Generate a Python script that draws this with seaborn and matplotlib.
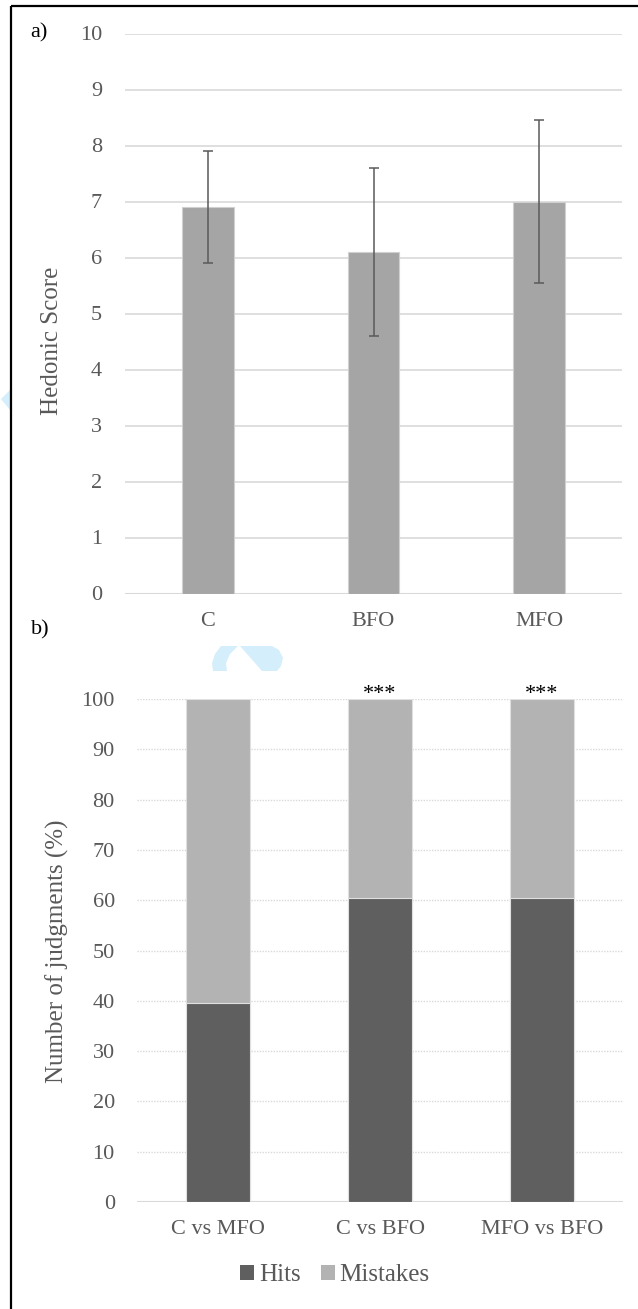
import numpy as np
import pandas as pd
import matplotlib
matplotlib.use("Agg")
import matplotlib.pyplot as plt
import seaborn as sns
from matplotlib.patches import Polygon, Patch

# Panel a: hedonic scores (mean and standard deviation)
samples = ["C", "BFO", "MFO"]
hedonic_mean = [6.9, 6.1, 7.0]
hedonic_sd = [1.0, 1.5, 1.45]

# Panel b: triangle test judgments (%)
comparisons = ["C vs MFO", "C vs BFO", "MFO vs BFO"]
hits = [39.6, 60.4, 60.4]
mistakes = [60.4, 39.6, 39.6]
significance = ["", "***", "***"]

W, H = 638, 1309
TICK_GREY = "#595959"
GRID_GREY = "#d9d9d9"

sns.set_theme(style="white")
plt.rcParams["font.family"] = ["Liberation Serif", "DejaVu Serif"]

fig = plt.figure(figsize=(W / 100, H / 100), dpi=100)


def box(left, top, right, bottom):
    return [left / W, 1 - bottom / H, (right - left) / W, (bottom - top) / H]


# background layer in pixel coordinates: frame and faint logo
bg = fig.add_axes([0, 0, 1, 1], zorder=-5)
bg.set_xlim(0, W)
bg.set_ylim(H, 0)
bg.axis("off")
logo = "#d4eefb"
bg.add_patch(Polygon([(1, 399), (10, 390), (10, 410)], closed=True, color=logo, lw=0))
bg.add_patch(Polygon([(213, 671), (212, 663), (215, 654), (221, 646), (238, 646),
                      (230, 654), (226, 663), (227, 671)], closed=True, color=logo, lw=0))
bg.add_patch(Polygon([(240, 646), (272, 646), (279, 650), (283, 658), (281, 666),
                      (277, 671), (262, 671)], closed=True, color=logo, lw=0))
bg.plot([11, W], [6, 6], color="black", lw=1.6, solid_capstyle="butt")
bg.plot([11, 11], [6, H], color="black", lw=1.6, solid_capstyle="butt")

# ---- panel a ----
ax_a = fig.add_axes(box(125, 33.5, 622, 593.5))
ax_a.set_facecolor("none")
df_a = pd.DataFrame({"sample": samples, "score": hedonic_mean})
sns.barplot(data=df_a, x="sample", y="score", color="#a5a5a5", saturation=1,
            width=0.31, edgecolor="#d0d0d0", linewidth=0.8, errorbar=None,
            ax=ax_a, zorder=2)
ax_a.errorbar(np.arange(len(samples)), hedonic_mean, yerr=hedonic_sd, fmt="none",
              ecolor="#5a5a5a", elinewidth=1.1, capsize=3.9, capthick=1.1, zorder=3)
ax_a.set_xlim(-0.5, len(samples) - 0.5)
ax_a.set_ylim(0, 10)
ax_a.set_yticks(np.arange(0, 11, 1))
ax_a.grid(axis="y", color=GRID_GREY, lw=1.2, zorder=0)
ax_a.set_axisbelow(True)
ax_a.axhline(0, color=GRID_GREY, lw=1.5, zorder=1)
for s in ax_a.spines.values():
    s.set_visible(False)
ax_a.tick_params(axis="y", length=0, labelsize=16, labelcolor=TICK_GREY, pad=16.5)
ax_a.tick_params(axis="x", length=0, labelsize=16, labelcolor=TICK_GREY, pad=13)
ax_a.set_xlabel("")
ax_a.set_ylabel("")
fig.text(52 / W, 1 - 341 / H, "Hedonic Score", rotation=90, ha="center", va="center",
         fontsize=18, color=TICK_GREY)
fig.text(30 / W, 1 - 33 / H, "a)", ha="left", va="center", fontsize=16, color="black")

# ---- panel b ----
ax_b = fig.add_axes(box(137, 699, 623, 1202))
ax_b.set_facecolor("none")
df_b = pd.DataFrame({"comparison": comparisons, "hits": hits, "mistakes": mistakes})
df_b["total"] = df_b["hits"] + df_b["mistakes"]
sns.barplot(data=df_b, x="comparison", y="total", color="#b3b3b3", saturation=1,
            width=0.4, edgecolor="#e0e0e0", linewidth=0.8, errorbar=None,
            ax=ax_b, zorder=2)
sns.barplot(data=df_b, x="comparison", y="hits", color="#5f5f5f", saturation=1,
            width=0.4, edgecolor="#e0e0e0", linewidth=0.8, errorbar=None,
            ax=ax_b, zorder=2)
for i, (tot, lab) in enumerate(zip(df_b["total"], significance)):
    if lab:
        ax_b.text(i, tot, lab, ha="center", va="baseline", fontsize=16, color="black")
ax_b.set_xlim(-0.5, len(comparisons) - 0.5)
ax_b.set_ylim(0, 100)
ax_b.set_yticks(np.arange(0, 101, 10))
ax_b.grid(axis="y", color=GRID_GREY, lw=1.0, linestyle=(0, (1, 1)), zorder=0)
ax_b.set_axisbelow(True)
ax_b.axhline(0, color=GRID_GREY, lw=1.5, zorder=1)
for s in ax_b.spines.values():
    s.set_visible(False)
ax_b.tick_params(axis="y", length=0, labelsize=16, labelcolor=TICK_GREY, pad=16)
ax_b.tick_params(axis="x", length=0, labelsize=16, labelcolor=TICK_GREY, pad=13)
ax_b.set_xlabel("")
ax_b.set_ylabel("")
fig.text(57 / W, 1 - 951 / H, "Number of judgments (%)", rotation=90, ha="center",
         va="center", fontsize=18, color=TICK_GREY)
fig.text(31 / W, 1 - 630 / H, "b)", ha="left", va="center", fontsize=16, color="black")

handles = [Patch(facecolor="#5f5f5f", edgecolor="none", label="Hits"),
           Patch(facecolor="#b3b3b3", edgecolor="none", label="Mistakes")]
fig.legend(handles=handles, loc="center", bbox_to_anchor=(335 / W, 1 - 1275 / H),
           ncol=2, frameon=False, fontsize=18, labelcolor=TICK_GREY,
           handlelength=0.55, handleheight=0.55, handletextpad=0.2, columnspacing=0.8,
           borderpad=0)

fig.savefig("out.png", dpi=100)
